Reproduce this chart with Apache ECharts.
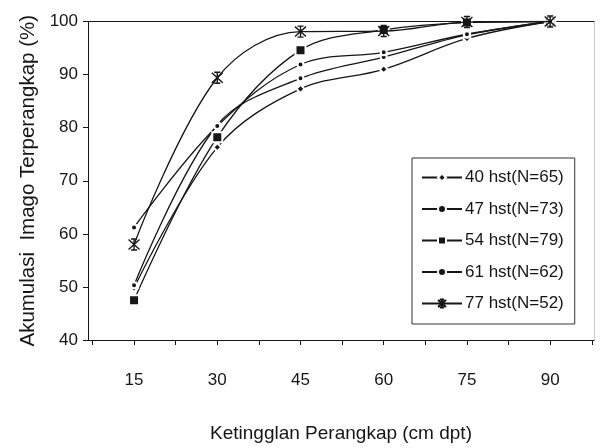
<!DOCTYPE html>
<html>
<head>
<meta charset="utf-8">
<script src="https://cdn.jsdelivr.net/npm/echarts@6/dist/echarts.min.js"></script>
<style>
  html, body { margin: 0; padding: 0; background: #fff; }
  #chart { width: 601px; height: 448px; }
</style>
</head>
<body>
<div id="chart"></div>
<script>
// ketinggian perangkap (cm dpt)
const heights = [15, 30, 45, 60, 75, 90];
const xTicks = [7.5, 15, 22.5, 30, 37.5, 45, 52.5, 60, 67.5, 75, 82.5, 90, 97.5];
// akumulasi imago terperangkap (%) per umur
const hst40 = [49.8, 76.3, 87.3, 91.0, 96.8, 100];
const hst47 = [50.3, 80.5, 89.3, 93.3, 97.5, 100];
const hst54 = [47.5, 78.2, 94.6, 98.4, 99.8, 100];
const hst61 = [61.2, 80.3, 91.9, 94.2, 97.6, 100];
const hst77 = [58.0, 89.4, 98.1, 98.2, 99.9, 100];

const names = ['40 hst(N=65)', '47 hst(N=73)', '54 hst(N=79)', '61 hst(N=62)', '77 hst(N=52)'];
const ink = '#161616';
const font = 'Liberation Sans, Arial, sans-serif';

function pairs(vals) {
  return heights.map((h, i) => [h, vals[i]]);
}

// bentuk marker bintang (x + garis tegak, tutup pendek)
const starPath = 'path://M2.5,0L7.5,0M2.5,10L7.5,10M0.5,0.5L9.5,9.5M9.5,0.5L0.5,9.5M5,0L5,10';

function line(name, vals, symbol, size, star) {
  return {
    name: name,
    type: 'line',
    smooth: 0.35,
    data: pairs(vals),
    symbol: symbol,
    symbolSize: size,
    showSymbol: true,
    lineStyle: { color: ink, width: 1.3 },
    itemStyle: star
      ? { color: ink, borderColor: ink, borderWidth: 1.4 }
      : { color: ink, borderColor: '#fff', borderWidth: 2 },
    emphasis: { disabled: true },
    z: star ? 3 : 2
  };
}

const myChart = echarts.init(document.getElementById('chart'));
myChart.setOption({
  backgroundColor: '#fff',
  animation: false,
  grid: { left: 88, top: 21.5, right: 7, bottom: 96 },
  xAxis: [
    {
      type: 'value',
      min: 6.7,
      max: 97.9,
      name: 'Ketingglan Perangkap (cm dpt)',
      nameLocation: 'middle',
      nameGap: 84,
      nameTextStyle: { fontSize: 19, color: ink, fontFamily: font },
      axisLine: { show: true, lineStyle: { color: ink, width: 1 } },
      axisTick: { show: true, length: 5, customValues: xTicks, lineStyle: { color: ink } },
      axisLabel: { customValues: heights, margin: 32, fontSize: 17, color: ink, fontFamily: font },
      splitLine: { show: false }
    },
    {
      type: 'value',
      position: 'top',
      min: 6.7,
      max: 97.9,
      axisLine: { show: true, onZero: false, lineStyle: { color: ink, width: 1 } },
      axisTick: { show: false },
      axisLabel: { show: false },
      splitLine: { show: false }
    }
  ],
  yAxis: [
    {
      type: 'value',
      min: 40,
      max: 100,
      interval: 10,
      name: 'Akumulasi  Imago Terperangkap (%)',
      nameLocation: 'middle',
      nameGap: 47,
      nameTextStyle: { fontSize: 20.5, color: ink, fontFamily: font },
      axisLine: { show: true, lineStyle: { color: ink, width: 1 } },
      axisTick: { show: true, length: 5, lineStyle: { color: ink } },
      axisLabel: { margin: 10, fontSize: 17, color: ink, fontFamily: font },
      splitLine: { show: false }
    },
    {
      type: 'value',
      position: 'right',
      min: 40,
      max: 100,
      axisLine: { show: true, onZero: false, lineStyle: { color: '#bbb', width: 1, type: 'dotted' } },
      axisTick: { show: false },
      axisLabel: { show: false },
      splitLine: { show: false }
    }
  ],
  legend: {
    orient: 'vertical',
    left: 412,
    top: 158,
    padding: [11, 11, 12, 9],
    itemWidth: 40,
    itemHeight: 10,
    itemGap: 14.5,
    borderColor: '#333',
    borderWidth: 1,
    backgroundColor: '#fff',
    textStyle: { fontSize: 17, color: ink, fontFamily: font, padding: [0, 0, 0, -2] },
    data: names
  },
  series: [
    line(names[0], hst40, 'diamond', 8, false),
    line(names[1], hst47, 'circle', 6, false),
    line(names[2], hst54, 'rect', 10, false),
    line(names[3], hst61, 'circle', 6, false),
    line(names[4], hst77, starPath, 11, true)
  ]
});
myChart.resize();
</script>
</body>
</html>
